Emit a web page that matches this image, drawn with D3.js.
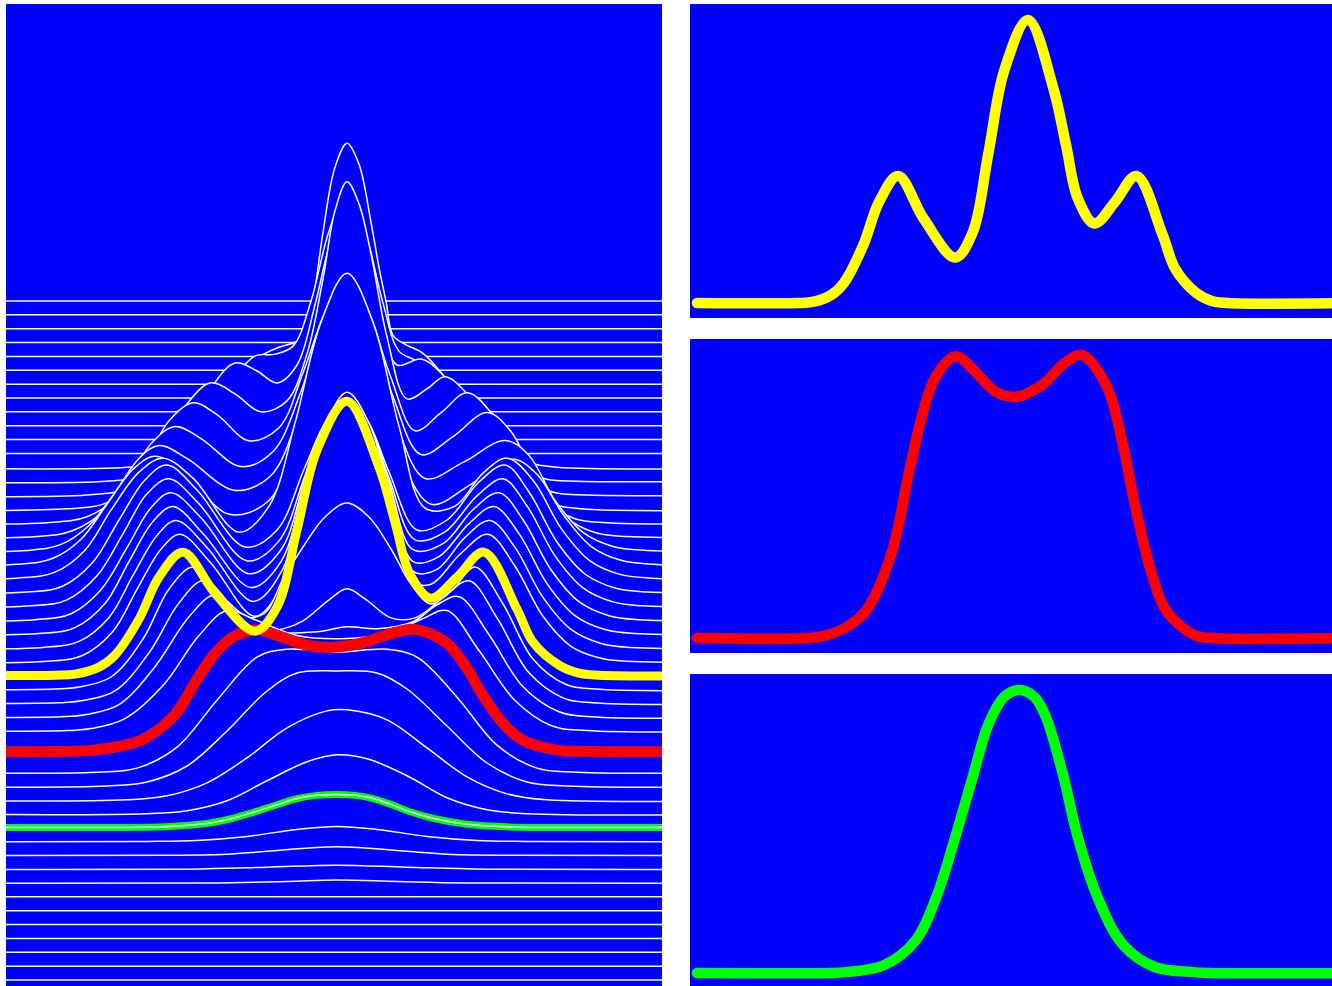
<!DOCTYPE html>
<html>
<head>
<meta charset="utf-8">
<script src="https://cdn.jsdelivr.net/npm/d3@7"></script>
<style>
  html, body { margin: 0; padding: 0; background: #ffffff; }
  svg { display: block; }
</style>
</head>
<body>
<svg id="chart" width="1332" height="986"></svg>
<script>
// ---------------------------------------------------------------
// Intensity profiles at successive steps, as [position, value] knots.
// Step 0 is the last (rear) trace, step 49 the first (front) one.
// An empty list is a flat trace.
// ---------------------------------------------------------------
const rearSteps = [
  [], [], [], [], [], [], [], [], [], [], [], [],
  // step 12
  [[-11,0],[-9.5,0.05],[-8,0.22],[-6.5,0.55],[-5.4,0.88],[-4.4,1.1],[-3.4,1.2],[-2.6,1.25],[-2.1,1.33],[-1.7,1.66],[-1.2,2.35],[-0.6,3.0],[0,3.24],[0.6,3.03],[1.2,2.45],[1.6,2.0],[1.95,1.66],[2.3,1.32],[2.9,1.23],[3.8,1.14],[4.8,0.92],[6,0.55],[7.5,0.2],[9,0.05],[10.5,0]],
  // step 13
  [[-12,0],[-10,0.06],[-8.5,0.25],[-7,0.62],[-5.8,1.0],[-4.6,1.25],[-3.6,1.27],[-2.7,1.35],[-1.8,1.8],[-0.9,2.5],[0,2.9],[0.9,2.5],[1.8,1.78],[2.6,1.3],[3.5,1.2],[4.5,1.02],[5.6,0.75],[7,0.36],[8.5,0.12],[10,0.02],[11.5,0]],
  // step 14
  [[-13,0],[-11,0.06],[-9.5,0.25],[-8,0.62],[-6.8,1.07],[-5.6,1.32],[-4.5,1.24],[-3.5,1.12],[-2.5,1.3],[-1.6,1.9],[-0.8,2.55],[0,2.9],[0.8,2.55],[1.6,1.85],[2.5,1.3],[3.7,1.36],[4.8,1.2],[6,0.85],[7.5,0.4],[9,0.12],[10.5,0.02],[12,0]],
  // step 15
  [[-14,0],[-12,0.06],[-10.5,0.25],[-9.2,0.62],[-8,1.05],[-6.8,1.26],[-5.6,1.15],[-4.3,0.97],[-3,1.08],[-2,1.55],[-1.2,2.3],[-0.6,2.98],[0,3.27],[0.6,3.05],[1.2,2.55],[2,1.72],[3,1.1],[4,1.2],[4.9,1.32],[6,1.15],[7.3,0.7],[8.7,0.28],[10.2,0.06],[11.7,0]],
  // step 16
  [[-15,0],[-13,0.06],[-11.5,0.25],[-10.1,0.6],[-8.9,1.02],[-7.7,1.2],[-6.5,1.08],[-4.9,0.82],[-3.4,0.95],[-2.2,1.5],[-1,2.15],[0,2.45],[1,2.15],[2.2,1.45],[3.4,0.92],[4.7,1.1],[6,1.3],[7.2,1.1],[8.5,0.6],[9.9,0.22],[11.4,0.04],[13,0]],
  // step 17
  [[-15.5,0],[-13.7,0.06],[-12.2,0.25],[-10.9,0.6],[-9.7,0.95],[-8.6,1.1],[-7.3,0.98],[-5.3,0.7],[-3.7,0.85],[-2.3,1.45],[-1,2.25],[0,2.6],[1,2.25],[2.3,1.4],[3.7,0.82],[5.3,1.0],[7,1.24],[8.2,1.05],[9.5,0.55],[10.9,0.2],[12.4,0.04],[14,0]],
  // step 18
  [[-16,0],[-14.3,0.06],[-12.9,0.25],[-11.6,0.58],[-10.4,0.92],[-9.4,1.05],[-8,0.92],[-5.6,0.6],[-3.8,0.75],[-2.4,1.35],[-1.1,2.05],[0,2.4],[1.1,2.05],[2.4,1.3],[3.9,0.72],[5.8,0.88],[7.9,1.1],[9.1,0.95],[10.4,0.5],[11.8,0.18],[13.3,0.04],[15,0]],
  // step 19
  [[-16.5,0],[-14.7,0.06],[-13.3,0.25],[-12,0.6],[-10.7,0.95],[-9.6,1.08],[-8.2,0.93],[-5.9,0.5],[-4,0.62],[-2.5,1.2],[-1.1,1.9],[0,2.2],[1.1,1.9],[2.5,1.15],[4.2,0.6],[6.2,0.8],[8.3,1.05],[9.5,0.9],[10.8,0.5],[12.2,0.18],[13.7,0.04],[15.3,0]],
  // step 20
  [[-16.5,0],[-14.6,0.06],[-13.1,0.28],[-11.8,0.68],[-10.4,1.06],[-9.2,1.2],[-7.7,1.0],[-5.4,0.46],[-3.9,0.72],[-2.6,1.55],[-1.3,2.56],[0,3.05],[1.3,2.56],[2.6,1.52],[3.9,0.7],[5.4,0.72],[6.8,1.05],[8,1.2],[9.3,0.98],[10.7,0.5],[12.1,0.18],[13.6,0.04],[15.2,0]],
  // step 21
  [[-16,0],[-14.2,0.06],[-12.7,0.3],[-11.4,0.72],[-10.1,1.12],[-9,1.27],[-7.5,1.02],[-5.1,0.45],[-3.5,0.62],[-2.1,1.25],[-1,1.72],[0,1.9],[1,1.72],[2.1,1.2],[3.5,0.62],[5,0.72],[6.6,1.1],[7.9,1.27],[9.1,1.0],[10.5,0.5],[11.9,0.18],[13.4,0.04],[15,0]],
  // step 22
  [[-15.8,0],[-14,0.06],[-12.5,0.3],[-11.2,0.72],[-10,1.12],[-8.9,1.27],[-7.4,1.02],[-5,0.45],[-3.4,0.65],[-2.1,1.3],[-1,1.85],[0,2.05],[1,1.85],[2.1,1.28],[3.4,0.66],[4.9,0.74],[6.5,1.1],[7.8,1.27],[9,1.0],[10.4,0.5],[11.8,0.18],[13.3,0.04],[14.8,0]],
  // step 23
  [[-15.6,0],[-13.8,0.06],[-12.3,0.3],[-11,0.72],[-9.8,1.12],[-8.8,1.27],[-7.3,1.02],[-4.9,0.46],[-3.3,0.7],[-2.1,1.4],[-1,1.98],[0,2.2],[1,1.98],[2.1,1.38],[3.3,0.7],[4.8,0.76],[6.3,1.1],[7.6,1.27],[8.8,1.0],[10.2,0.5],[11.6,0.18],[13.1,0.04],[14.6,0]],
  // step 24
  [[-15.4,0],[-13.6,0.06],[-12.1,0.3],[-10.9,0.72],[-9.7,1.12],[-8.7,1.27],[-7.2,1.0],[-4.8,0.46],[-3.3,0.72],[-2.1,1.5],[-1,2.12],[0,2.35],[1,2.12],[2.1,1.48],[3.3,0.72],[4.6,0.77],[6.1,1.1],[7.35,1.27],[8.6,1.0],[10,0.5],[11.4,0.18],[12.9,0.04],[14.4,0]],
  // step 25
  [[-15.2,0],[-13.4,0.06],[-11.9,0.3],[-10.7,0.72],[-9.5,1.12],[-8.55,1.27],[-7,1.0],[-4.7,0.46],[-3.3,0.75],[-2.1,1.6],[-1,2.25],[0,2.5],[1,2.25],[2.1,1.58],[3.3,0.76],[4.5,0.78],[5.9,1.1],[7.15,1.27],[8.4,1.0],[9.8,0.5],[11.2,0.18],[12.7,0.04],[14.2,0]],
  // step 26
  [[-15,0],[-13.2,0.06],[-11.7,0.3],[-10.5,0.72],[-9.3,1.12],[-8.35,1.27],[-6.8,0.98],[-4.6,0.45],[-3.3,0.75],[-2.2,1.6],[-1.1,2.35],[0,2.69],[1.1,2.38],[2.2,1.62],[3.3,0.8],[4.2,0.77],[5.7,1.08],[7.05,1.27],[8.4,0.95],[9.8,0.45],[11.2,0.15],[12.7,0.03],[14,0]]
];

// step 27, highlighted in yellow
const yellowProfile = [[-14.6,0],[-13.6,0.01],[-12.4,0.08],[-11.6,0.2],[-10.4,0.56],[-9.4,0.98],[-8.2,1.23],[-6.6,0.82],[-4.6,0.44],[-3.5,0.68],[-2.5,1.45],[-1.5,2.25],[0,2.74],[1.6,2.08],[2.4,1.53],[3.15,1.01],[4.2,0.77],[5.5,0.98],[6.85,1.23],[8.5,0.66],[9.3,0.33],[10.6,0.1],[11.6,0.02],[12.6,0]];

// steps 28 .. 31, between the yellow and the red traces
const middleSteps = [
  // step 28
  [[-14.6,0],[-13.4,0.02],[-11.8,0.12],[-10.2,0.5],[-8.9,1.0],[-7.7,1.22],[-6.5,1.0],[-5.2,0.72],[-4.1,0.76],[-3.2,1.1],[-2.2,1.42],[-1.1,1.72],[0,1.86],[1.1,1.72],[2.2,1.4],[3.2,1.05],[4.2,0.85],[5.3,1.0],[6.4,1.22],[7.8,0.85],[9.3,0.3],[10.9,0.05],[12.4,0]],
  // step 29
  [[-14.5,0],[-13.3,0.02],[-11.6,0.12],[-9.9,0.5],[-8.4,1.0],[-7.2,1.22],[-6,1.0],[-4.5,0.72],[-3.2,0.74],[-2.2,0.82],[-0.9,1.03],[0,1.14],[0.9,1.04],[2.2,0.85],[3.4,0.85],[4.8,1.05],[6.1,1.22],[7.5,0.85],[9.1,0.3],[10.8,0.05],[12.3,0]],
  // step 30
  [[-14.3,0],[-13.1,0.02],[-11.4,0.12],[-9.6,0.5],[-7.9,1.0],[-6.6,1.22],[-5.2,1.02],[-3.5,0.85],[-1.5,0.85],[0,0.9],[1.5,0.88],[3.3,0.95],[4.5,1.12],[5.6,1.2],[7.1,0.82],[8.8,0.3],[10.6,0.05],[12.2,0]],
  // step 31
  [[-14,0],[-12.8,0.02],[-11.1,0.12],[-9.2,0.45],[-7.4,0.95],[-6,1.2],[-4.5,1.1],[-2.5,0.95],[0,0.92],[2.2,0.98],[3.8,1.12],[5,1.2],[6.6,0.8],[8.4,0.3],[10.2,0.05],[12,0]]
];

// highlighted red trace; it takes the place of steps 32 and 33
const redProfile = [[-13.8,0],[-12.8,0.01],[-11.4,0.05],[-10.2,0.12],[-8.64,0.36],[-7.47,0.73],[-6.6,0.98],[-5.8,1.13],[-4.57,1.215],[-3.5,1.16],[-2,1.06],[-0.68,1.04],[0.86,1.09],[2.4,1.19],[3.4,1.22],[4.94,1.09],[6,0.83],[6.7,0.59],[7.8,0.28],[8.8,0.11],[10.6,0.01],[11.6,0]];

// steps 34 .. 49, front traces (growing pulse, then empty)
const frontSteps = [
  // step 34
  [[-12.5,0],[-10.5,0.04],[-8.5,0.25],[-6.5,0.72],[-4.5,1.15],[-3,1.23],[-0.5,1.2],[2,1.23],[3.5,1.15],[5.5,0.75],[7.5,0.27],[9.5,0.04],[11.5,0]],
  // step 35
  [[-12,0],[-10,0.04],[-8,0.2],[-6,0.55],[-4,0.95],[-2.5,1.13],[-0.5,1.15],[1.5,1.13],[3,0.97],[5,0.6],[7,0.23],[9,0.04],[11,0]],
  // step 36
  [[-11,0],[-9,0.04],[-7,0.17],[-5,0.42],[-3,0.72],[-1,0.89],[0,0.9],[2,0.8],[4,0.52],[6,0.23],[8,0.06],[10,0]],
  // step 37
  [[-10,0],[-8,0.03],[-6,0.13],[-4,0.33],[-2,0.52],[-0.5,0.59],[1,0.55],[3,0.38],[5,0.16],[7,0.04],[9,0]],
  // step 38, highlighted in green
  [[-12.5,0],[-11.5,0.001],[-9.1,0.009],[-7.1,0.038],[-5.8,0.088],[-4.6,0.158],[-3.5,0.228],[-2.5,0.29],[-1.5,0.322],[-0.55,0.33],[0.4,0.322],[1.1,0.3],[2.2,0.232],[3.15,0.158],[4.4,0.088],[6,0.033],[8,0.007],[10.4,0.001],[11.4,0]],
  // step 39
  [[-10,0],[-7.5,0.01],[-5,0.05],[-2.5,0.12],[-0.5,0.15],[1.5,0.12],[4,0.05],[6.5,0.01],[9,0]],
  // step 40
  [[-9,0],[-6,0.01],[-4,0.04],[-0.5,0.085],[3,0.04],[5,0.01],[8,0]],
  // step 41
  [[-8,0],[-4,0.02],[-0.5,0.04],[3,0.02],[7,0]],
  // step 42
  [[-7,0],[-3,0.015],[-0.5,0.03],[2.5,0.015],[6,0]],
  [], [], [], [], [], [], []
];

const yellowStep = 27;
const redStep = 32.5;
const greenStep = 38;
const stepCount = 50;

// ---------------------------------------------------------------
const BLUE = "#0000ff";
const svg = d3.select("#chart");
const defs = svg.append("defs");
const smooth = d3.curveCatmullRom.alpha(0.5);

// traces in drawing order, rear to front
const traces = [];
rearSteps.forEach((p, i) => traces.push({ step: i, profile: p }));
traces.push({ step: yellowStep, profile: yellowProfile });
middleSteps.forEach((p, i) => traces.push({ step: yellowStep + 1 + i, profile: p }));
traces.push({ step: redStep, profile: redProfile, bare: true });
frontSteps.forEach((p, i) => traces.push({ step: 34 + i, profile: p }));
const greenProfile = frontSteps[greenStep - 34];

const pad = pts => [[-24, 0]].concat(pts, [[24, 0]]);

// ---------------- left panel: stacked traces ----------------
const L = { x: 6, y: 4, w: 656, h: 990 };
const xL = d3.scaleLinear().domain([-17.05, 15.75]).range([L.x, L.x + L.w]);
const stepY = d3.scaleLinear().domain([0, stepCount - 1]).range([301, 980]);
const amp = d3.scaleLinear().domain([0, 1]).range([0, 100]);

defs.append("clipPath").attr("id", "clipLeft")
  .append("rect").attr("x", L.x).attr("y", L.y).attr("width", L.w).attr("height", L.h);

svg.append("rect").attr("x", L.x).attr("y", L.y).attr("width", L.w).attr("height", L.h)
  .attr("fill", BLUE);

const gL = svg.append("g").attr("clip-path", "url(#clipLeft)");

function traceArea(step) {
  const base = stepY(step);
  return d3.area()
    .x(d => xL(d[0]))
    .y0(L.y + L.h)
    .y1(d => base - amp(d[1]))
    .curve(smooth);
}
function strokeTrace(step, profile, color, width) {
  gL.append("path").attr("d", traceArea(step).lineY1()(pad(profile)))
    .attr("fill", "none").attr("stroke", color).attr("stroke-width", width)
    .attr("stroke-linejoin", "round");
}

traces.forEach(t => {
  // hidden-line removal: the area under each trace covers the ones behind it
  gL.append("path").attr("d", traceArea(t.step)(pad(t.profile))).attr("fill", BLUE);
  if (t.step === greenStep) strokeTrace(t.step, t.profile, "#00ff00", 7);
  if (!t.bare) strokeTrace(t.step, t.profile, "#ffffff", 1.5);
});

// highlighted traces stay on top of the stack
strokeTrace(redStep, redProfile, "#ff0000", 11);
strokeTrace(yellowStep, yellowProfile, "#ffff00", 9);

// ---------------- right panels: single traces ----------------
const xR = d3.scaleLinear().domain([-20.9, 20.9]).range([697, 1359]);
const panels = [
  { top: 4,   profile: yellowProfile, color: "#ffff00" },
  { top: 339, profile: redProfile,    color: "#ff0000" },
  { top: 674, profile: greenProfile,  color: "#00ff00" }
];
const panelH = 314;

panels.forEach((p, i) => {
  const bottom = p.top + panelH;
  defs.append("clipPath").attr("id", "clipR" + i)
    .append("rect").attr("x", 690).attr("y", p.top).attr("width", 680).attr("height", panelH);
  svg.append("rect").attr("x", 690).attr("y", p.top).attr("width", 680).attr("height", panelH)
    .attr("fill", BLUE);
  const yR = d3.scaleLinear()
    .domain([0, d3.max(p.profile, d => d[1])])
    .range([bottom - 15, bottom - 15 - 283]);
  const pts = [[-20.9, 0]].concat(p.profile, [[20.9, 0]]);
  svg.append("g").attr("clip-path", "url(#clipR" + i + ")")
    .append("path")
    .attr("d", d3.line().x(d => xR(d[0])).y(d => yR(d[1])).curve(smooth)(pts))
    .attr("fill", "none").attr("stroke", p.color).attr("stroke-width", 10.5)
    .attr("stroke-linecap", "round").attr("stroke-linejoin", "round");
});
</script>
</body>
</html>
